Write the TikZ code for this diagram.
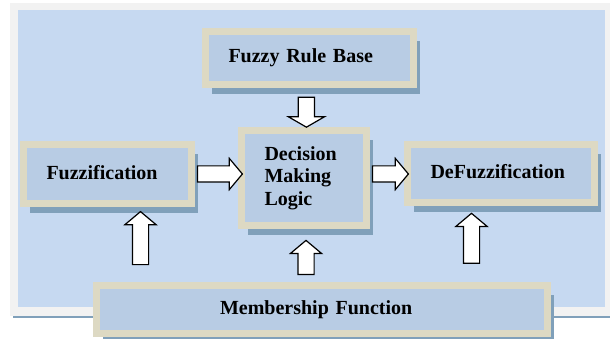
\documentclass[tikz,border=0pt]{standalone}
\usepackage{fontspec}
\setmainfont{Liberation Serif}
\usetikzlibrary{positioning,calc,shapes.arrows,shadows}

\definecolor{framegray}{HTML}{F2F2F2}
\definecolor{panelblue}{HTML}{C6D9F1}
\definecolor{boxblue}{HTML}{B8CCE4}
\definecolor{boxrim}{HTML}{DDD9C3}
\definecolor{shadeblue}{RGB}{128,160,186}

\begin{document}
\begin{tikzpicture}[x=1pt,y=-1pt,
  block/.style={rectangle,draw=boxrim,fill=boxblue,line width=7pt,align=left,inner xsep=23pt,inner ysep=0pt,
    font=\bfseries\fontsize{20}{22.5}\selectfont,
    drop shadow={shadow xshift=6.5pt,shadow yshift=-9.5pt,fill=shadeblue,opacity=1}},
  oneline/.style={text height=14pt,text depth=4pt},
  fatarrow/.style={single arrow,draw=black,fill=white,line width=1.2pt,inner xsep=0pt,inner ysep=7.5pt,
    single arrow head extend=7.5pt,single arrow tip angle=100}]
\useasboundingbox (0,0) rectangle (610,339);

% panel
\fill[shadeblue] (13,315) rectangle (610,318);
\fill[framegray] (10,3) rectangle (610,316);
\fill[panelblue] (18,10) rectangle (605,307);

% rule base
\node[block,oneline,minimum width=208pt,minimum height=53pt,text width=162pt,name=rule] at (309.5,58) {Fuzzy Rule Base};

% middle row
\node[block,oneline,minimum width=168pt,minimum height=59pt,text width=122pt,name=fuzz] at (107.5,174) {Fuzzification};
\node[block,minimum width=125pt,minimum height=95pt,text width=79pt,name=dml] at (304,178) {Decision\\Making\\Logic};
\node[block,oneline,minimum width=187pt,minimum height=58pt,text width=141pt,name=defuzz] at (501,173.5) {DeFuzzification};

% membership
\node[block,oneline,minimum width=451pt,minimum height=48pt,inner xsep=123.5pt,text width=204pt,name=memb] at (322,309.5) {Membership Function};

% arrows
\path (rule.south) -- node[fatarrow,rotate=-90,minimum height=30pt,single arrow head extend=10pt,single arrow tip angle=120,pos=0.56,name=ruledown] {} (dml.north);
\path (fuzz.east) -- node[fatarrow,minimum height=45pt,name=fuzzright] {} (fuzz.east -| dml.west);
\path (fuzz.east -| dml.east) -- node[fatarrow,minimum height=36pt,name=dmlright] {} (fuzz.east -| defuzz.west);

\coordinate (m1) at ([xshift=33pt]fuzz.south);
\coordinate (m2) at ([xshift=2pt]dml.south);
\coordinate (m3) at ([xshift=-29.5pt]defuzz.south);
\path (m1 |- memb.north) -- node[fatarrow,rotate=90,minimum height=53pt,pos=0.54,name=membup1] {} (m1);
\path (m2 |- memb.north) -- node[fatarrow,rotate=90,minimum height=34pt,pos=0.4,name=membup2] {} (m2);
\path (m3 |- memb.north) -- node[fatarrow,rotate=90,minimum height=50pt,pos=0.53,name=membup3] {} (m3);
\end{tikzpicture}
\end{document}
